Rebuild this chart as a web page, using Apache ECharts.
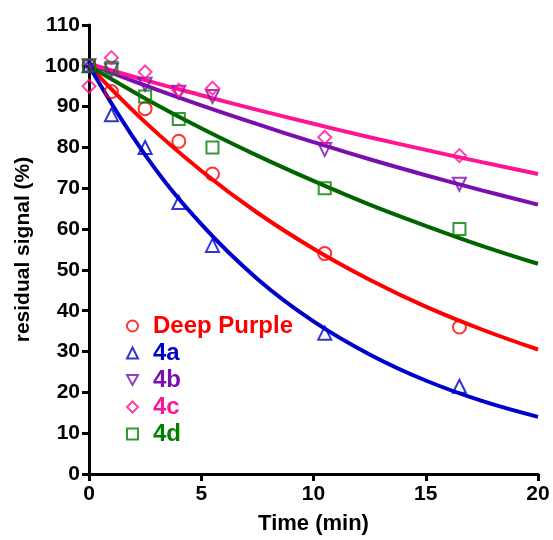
<!DOCTYPE html>
<html>
<head>
<meta charset="utf-8">
<script src="https://cdn.jsdelivr.net/npm/echarts@6/dist/echarts.min.js"></script>
<style>
  html, body { margin: 0; padding: 0; background: #fff; }
  #main { width: 553px; height: 540px; }
</style>
</head>
<body>
<div id="main"></div>
<script>
// measured time points (min)
var times = [0, 1, 2.5, 4, 5.5, 10.5, 16.5];
var deepPurple = [100, 93.7, 89.5, 81.5, 73.5, 54, 36];
var s4a = [100, 88, 80, 66.5, 56, 34.5, 21.5];
var s4b = [100, 99, 95.5, 93.5, 92.5, 79.5, 71];
var s4c = [95, 102, 98.5, 94, 94.5, 82.5, 78];
var s4d = [100, 99.5, 92.5, 87, 80, 70, 60];

// fitted curves
var fitX = [0, 2.5, 5, 7.5, 10, 12.5, 15, 17.5, 20];
var fitDeepPurple = [100, 86.2, 74.3, 64.0, 55.2, 47.6, 41.0, 35.4, 30.5];
var fit4a = [100, 78.2, 61.2, 47.8, 37.4, 29.3, 22.9, 17.9, 14.0];
var fit4b = [100.5, 95.2, 90.3, 85.7, 81.3, 77.1, 73.2, 69.5, 66.0];
var fit4c = [100.5, 96.5, 92.8, 89.2, 85.8, 82.5, 79.4, 76.4, 73.5];
var fit4d = [100, 92.0, 84.7, 78.0, 71.8, 66.0, 60.8, 55.9, 51.5];

var names = ['Deep Purple', '4a', '4b', '4c', '4d'];
var colors = ['#ff0000', '#0000cc', '#7a0fb0', '#ff1493', '#008000'];
var lineColors = ['#ff0000', '#0000cc', '#7a0fb0', '#ff1493', '#006400'];
var symbols = ['circle', 'triangle', 'path://M0,0 L10,0 L5,9 Z', 'diamond', 'rect'];
var symSizes = [13, 13, 13, 13, 12];
var points = [deepPurple, s4a, s4b, s4c, s4d];
var fits = [fitDeepPurple, fit4a, fit4b, fit4c, fit4d];

function pairs(xs, ys) {
  var out = [];
  for (var i = 0; i < xs.length; i++) out.push([xs[i], ys[i]]);
  return out;
}

var myChart = echarts.init(document.getElementById('main'));
var series = [];
var legendData = [];
for (var i = 0; i < names.length; i++) {
  series.push({
    name: names[i] + ' fit',
    type: 'line',
    data: pairs(fitX, fits[i]),
    smooth: 0.4,
    showSymbol: false,
    lineStyle: { color: lineColors[i], width: 4 },
    itemStyle: { color: lineColors[i] },
    z: 2,
    silent: true
  });
}
for (var i = 0; i < names.length; i++) {
  series.push({
    name: names[i],
    type: 'scatter',
    data: pairs(times, points[i]),
    symbol: symbols[i],
    symbolSize: symSizes[i],
    itemStyle: { color: 'rgba(255,255,255,0)', borderColor: colors[i], borderWidth: 2 },
    z: 3
  });
  legendData.push({ name: names[i], textStyle: { color: colors[i] } });
}

var font = 'Liberation Sans';
var option = {
  animation: false,
  grid: { left: 89, right: 15, top: 25, bottom: 63, containLabel: false },
  legend: {
    orient: 'vertical',
    left: 121,
    top: 309,
    itemGap: 3,
    itemWidth: 11,
    itemHeight: 11,
    data: legendData,
    textStyle: { fontFamily: font, fontWeight: 'bold', fontSize: 24, lineHeight: 24, padding: [0, 0, 0, 10] }
  },
  xAxis: {
    type: 'value',
    min: 0, max: 20, interval: 5,
    name: 'Time (min)',
    nameLocation: 'middle',
    nameGap: 39,
    nameTextStyle: { fontFamily: font, fontWeight: 'bold', fontSize: 22, color: '#000' },
    axisLine: { show: true, lineStyle: { color: '#000', width: 3 } },
    axisTick: { show: true, inside: false, length: 7, lineStyle: { color: '#000', width: 3 } },
    axisLabel: { fontFamily: font, fontWeight: 'bold', fontSize: 21, color: '#000', margin: 10 },
    splitLine: { show: false }
  },
  yAxis: {
    type: 'value',
    min: 0, max: 110, interval: 10,
    name: 'residual signal (%)',
    nameLocation: 'middle',
    nameGap: 51,
    nameRotate: 90,
    nameTextStyle: { fontFamily: font, fontWeight: 'bold', fontSize: 21, color: '#000' },
    axisLine: { show: true, lineStyle: { color: '#000', width: 3 } },
    axisTick: { show: true, inside: false, length: 7, lineStyle: { color: '#000', width: 3 } },
    axisLabel: { fontFamily: font, fontWeight: 'bold', fontSize: 21, color: '#000', margin: 9 },
    splitLine: { show: false }
  },
  series: series
};
myChart.setOption(option);
</script>
</body>
</html>
